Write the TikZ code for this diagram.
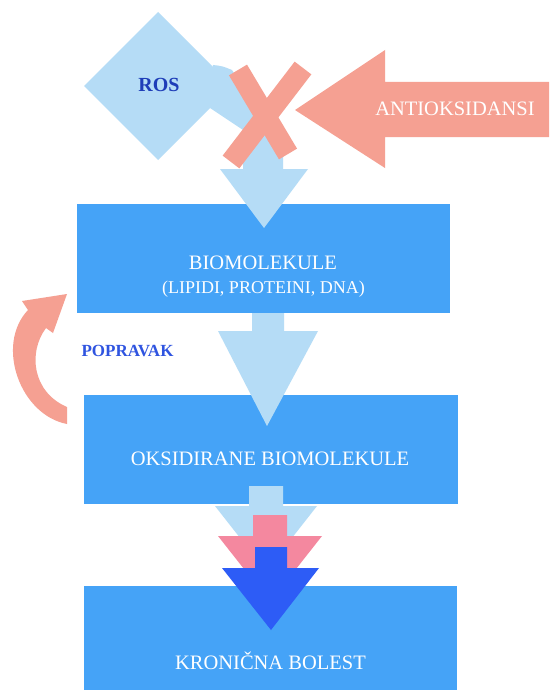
\documentclass[tikz,border=0pt]{standalone}
\usepackage{fontspec}
\setmainfont{Liberation Serif}
\definecolor{lightblue}{HTML}{B5DCF6}
\definecolor{boxblue}{HTML}{45A3F7}
\definecolor{salmon}{HTML}{F5A092}
\definecolor{pinkar}{HTML}{F4889F}
\definecolor{darkar}{HTML}{2D5CF6}
\definecolor{rosblue}{HTML}{1E3DB8}
\definecolor{popblue}{HTML}{2F54E0}
\tikzset{
  box/.style={fill=boxblue, draw=none, inner sep=0pt},
  boxtext/.style={text=white, inner sep=0pt, anchor=base, font=\fontsize{20.5}{24}\selectfont},
  subtext/.style={text=white, inner sep=0pt, anchor=base, font=\fontsize{18}{21}\selectfont},
}
\begin{document}
\begin{tikzpicture}[x=1pt,y=-1pt]
\useasboundingbox (0,0) rectangle (549,690);
\fill[white] (0,0) rectangle (549,690);
% boxes
\node[box, minimum width=373pt, minimum height=109pt] (bio) at (263.5,258.5) {};
\node[box, minimum width=374pt, minimum height=109pt] (oks) at (271,449.5) {};
\node[box, minimum width=373pt, minimum height=104pt] (kron) at (270.5,638) {};
% ROS diamond and first arrow
\fill[lightblue] (158,12) -- (232,86) -- (158,160) -- (84,86) -- cycle;
\fill[lightblue] (213,65) .. controls (222,66) .. (232,70) -- (283,150) -- (283,169)
  -- (308,169) -- (264,228) -- (220,169) -- (243,169) -- (243,130) -- (210,108) -- cycle;
% X
\draw[salmon, line width=21pt] (238,70) -- (288,154);
\draw[salmon, line width=21pt] (303,68) -- (231,162);
% antioxidant arrow
\fill[salmon] (549,82) -- (385,82) -- (385,50) -- (295,110) -- (385,168) -- (385,137) -- (549,137) -- cycle;
% second arrow
\fill[lightblue] (252,313) -- (284,313) -- (284,331) -- (318,331) -- (267,426) -- (218,331) -- (252,331) -- cycle;
% stacked arrows
\fill[lightblue] (249,486) -- (283,486) -- (283,506) -- (317,506) -- (266,571) -- (215,506) -- (249,506) -- cycle;
\fill[pinkar] (253,515) -- (287,515) -- (287,536) -- (322,536) -- (270,602) -- (218,536) -- (253,536) -- cycle;
\fill[darkar] (255,547) -- (287,547) -- (287,568) -- (319,568) -- (271,630) -- (222,568) -- (255,568) -- cycle;
% repair curved arrow
\fill[salmon] (67,424) .. controls (20,415) and (-5,345) .. (28,310) -- (22,301) -- (67,294)
  -- (53,333) -- (46,328) .. controls (28,352) and (32,392) .. (67,407) -- cycle;
% texts
\node[text=rosblue, inner sep=0pt, anchor=base, font=\fontsize{20}{24}\selectfont\bfseries] (ros) at (159,92) {ROS};
\node[boxtext] (anti) at (455,115.5) {ANTIOKSIDANSI};
\node[boxtext] (biot) at (263,269) {BIOMOLEKULE};
\node[subtext] (biot2) at (263.5,293) {(LIPIDI, PROTEINI, DNA)};
\node[text=popblue, inner sep=0pt, anchor=base, font=\fontsize{17}{20}\selectfont\bfseries] (pop) at (127.5,356.6) {POPRAVAK};
\node[boxtext] (okst) at (270,465) {OKSIDIRANE BIOMOLEKULE};
\node[boxtext] (kront) at (270.5,669.5) {KRONIČNA BOLEST};
\end{tikzpicture}
\end{document}
